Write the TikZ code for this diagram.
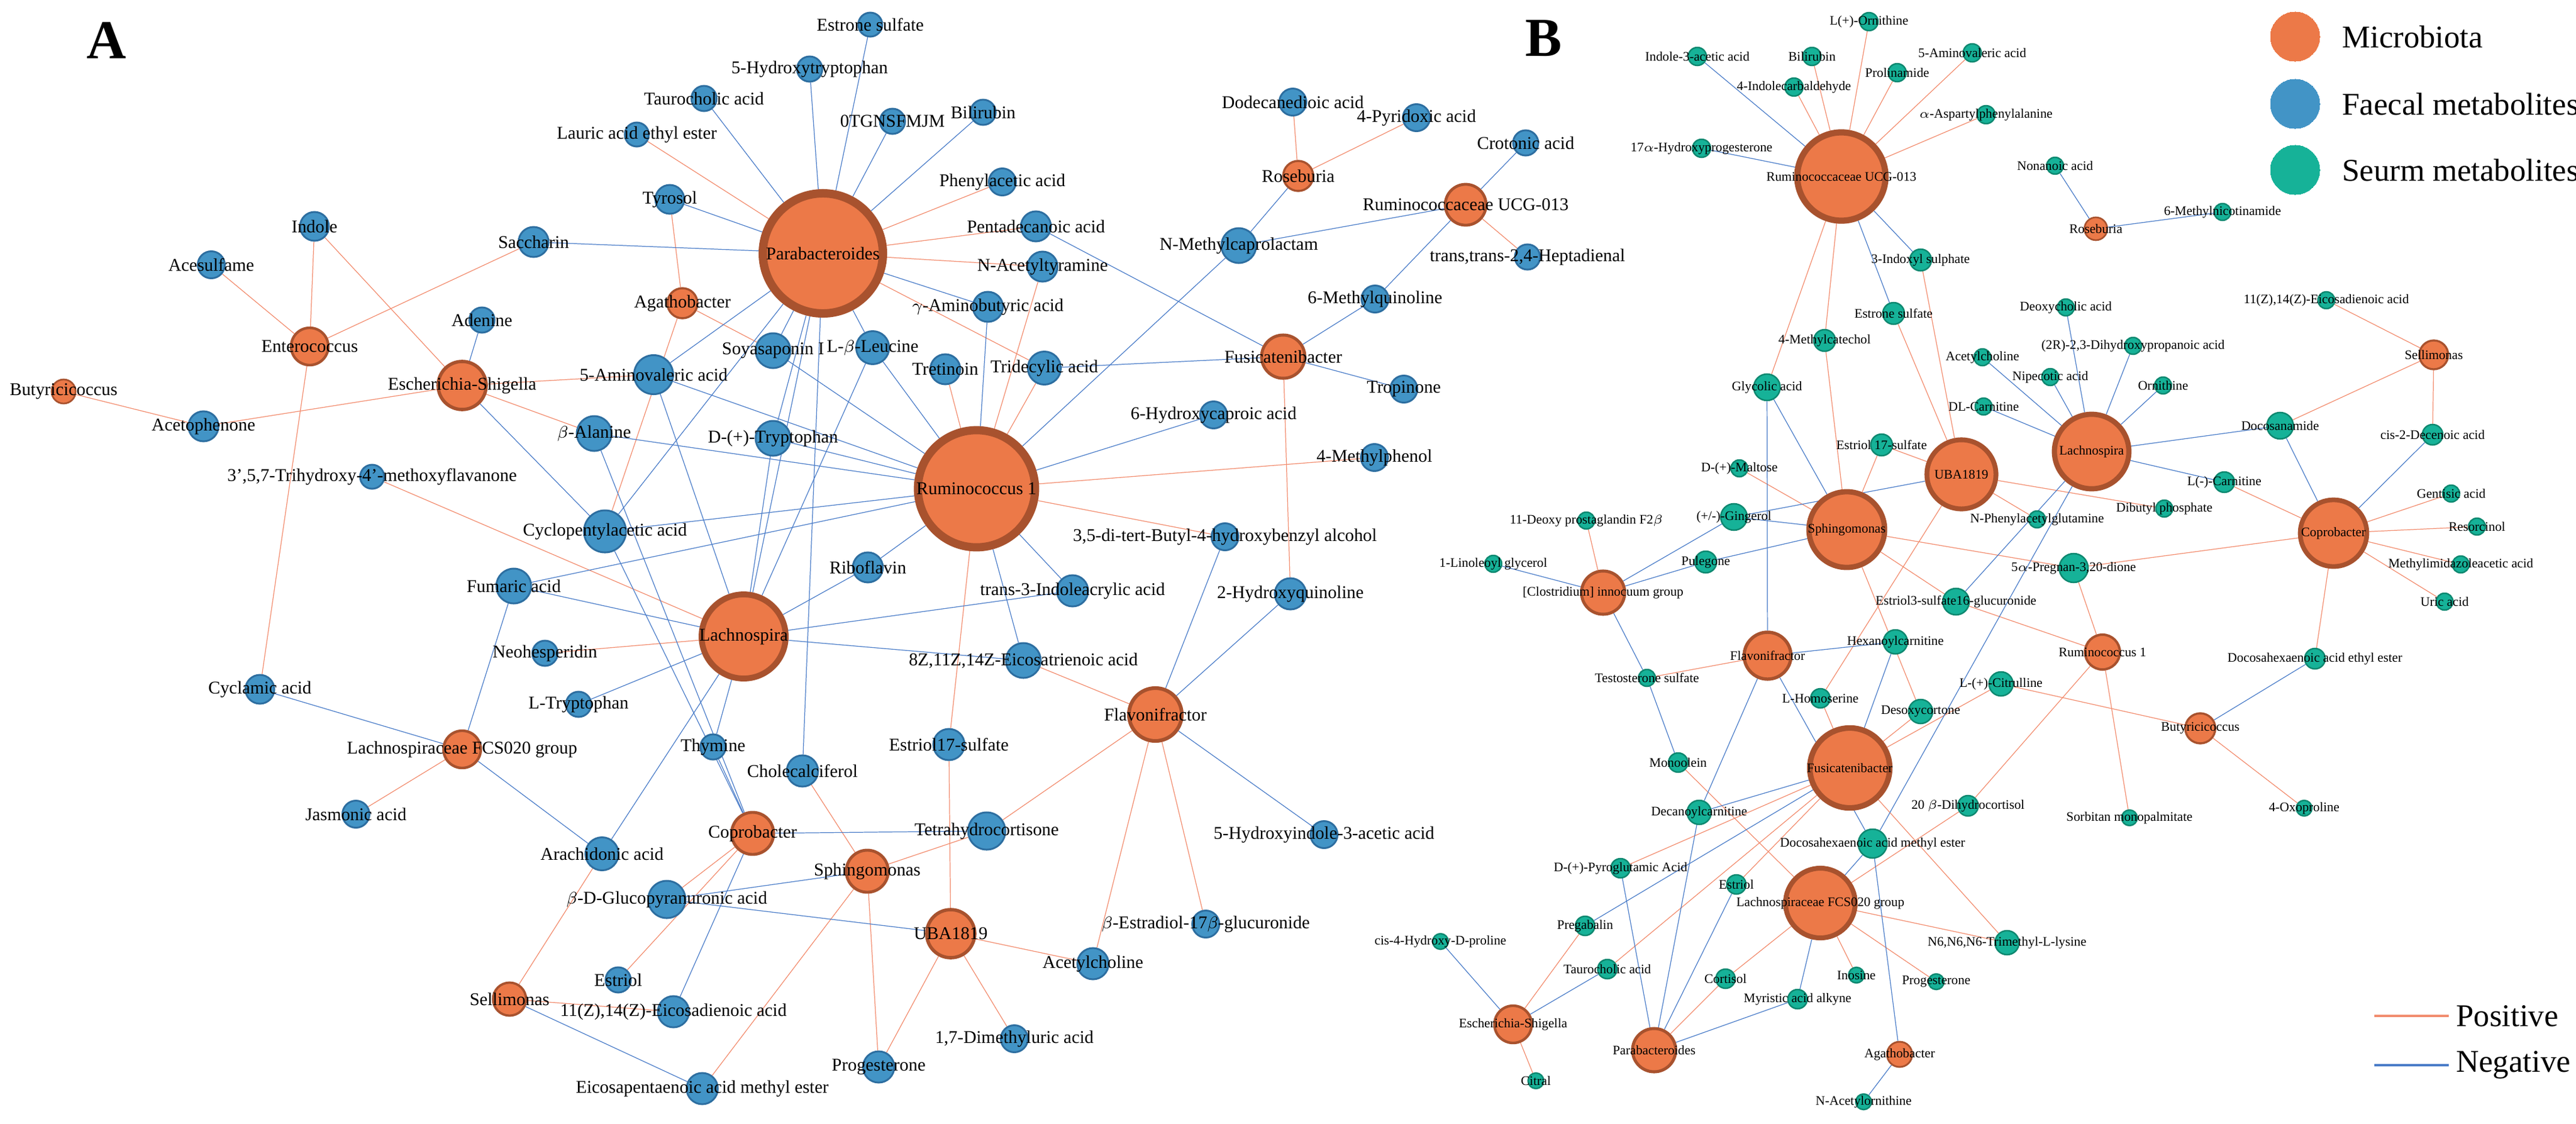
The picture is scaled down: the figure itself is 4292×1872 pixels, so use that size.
\documentclass[tikz,border=0pt]{standalone}
\usepackage{fontspec}
\setmainfont{Liberation Serif}
\usetikzlibrary{backgrounds}
\definecolor{micF}{RGB}{236,121,72}
\definecolor{micD}{RGB}{168,82,46}
\definecolor{faeF}{RGB}{66,148,198}
\definecolor{faeD}{RGB}{45,110,160}
\definecolor{serF}{RGB}{22,178,152}
\definecolor{serD}{RGB}{14,136,112}
\definecolor{posE}{RGB}{242,140,110}
\definecolor{negE}{RGB}{74,124,200}
\tikzset{
  mic/.style={circle, fill=micF, draw=micD, minimum size=#1*0.1mm, line width=#1*0.007mm, inner sep=0pt},
  fae/.style={circle, fill=faeF, draw=faeD, minimum size=#1*0.1mm, line width=0.3mm, inner sep=0pt},
  ser/.style={circle, fill=serF, draw=serD, minimum size=#1*0.1mm, line width=0.25mm, inner sep=0pt},
  la/.style={font=\fontsize{8.5}{8.5}\selectfont, inner sep=0pt},
  lb/.style={font=\fontsize{6.2}{6.2}\selectfont, inner sep=0pt},
  posl/.style={draw=posE, line width=0.35pt},
  negl/.style={draw=negE, line width=0.35pt},
}
\newcommand{\nA}[5]{\node[#1=#2, label={[la]center:#5}] (#3) at (#4) {};}
\newcommand{\nB}[5]{\node[#1=#2, label={[lb]center:#5}] (#3) at (#4) {};}
\begin{document}
\begin{tikzpicture}[x=0.01cm, y=-0.01cm]
\useasboundingbox (0,0) rectangle (4292,1872);
\node[font=\fontsize{26}{26}\selectfont\bfseries] (lblA) at (178,67) {A};
\node[font=\fontsize{26}{26}\selectfont\bfseries] (lblB) at (2572,64) {B};
% panel A, microbiota
\nA{mic}{200}{aPara}{1371,422}{Parabacteroides}
\nA{mic}{195}{aRum}{1627,814}{Ruminococcus 1}
\nA{mic}{140}{aLach}{1239,1060}{Lachnospira}
\nA{mic}{80}{aEsch}{770,642}{Escherichia-Shigella}
\nA{mic}{62}{aEnt}{516,577}{Enterococcus}
\nA{mic}{50}{aAga}{1137,505}{Agathobacter}
\nA{mic}{50}{aRos}{2163,293}{Roseburia}
\nA{mic}{68}{aRucg}{2442,341}{Ruminococcaceae UCG-013}
\nA{mic}{72}{aFus}{2138,594}{Fusicatenibacter}
\nA{mic}{62}{aLfcs}{770,1248}{Lachnospiraceae FCS020 group}
\nA{mic}{70}{aCop}{1254,1388}{Coprobacter}
\nA{mic}{70}{aSph}{1445,1451}{Sphingomonas}
\nA{mic}{80}{aUba}{1584,1555}{UBA1819}
\nA{mic}{88}{aFla}{1925,1190}{Flavonifractor}
\nA{mic}{55}{aSel}{849,1664}{Sellimonas}
\nA{mic}{40}{aBut}{106,652}{Butyricicoccus}
% panel A, faecal metabolites
\nA{fae}{48}{aIndole}{524,377}{Indole}
\nA{fae}{45}{aAcesul}{352,441}{Acesulfame}
\nA{fae}{50}{aSacch}{889,403}{Saccharin}
\nA{fae}{42}{aAden}{803,533}{Adenine}
\nA{fae}{50}{aAceto}{339,710}{Acetophenone}
\nA{fae}{40}{aTrihy}{620,794}{3',5,7-Trihydroxy-4'-methoxyflavanone}
\nA{fae}{40}{aLaur}{1061,224}{Lauric acid ethyl ester}
\nA{fae}{48}{aTyro}{1116,332}{Tyrosol}
\nA{fae}{65}{aAmino}{1089,624}{5-Aminovaleric acid}
\nA{fae}{58}{aBala}{990,722}{$\beta$-Alanine}
\nA{fae}{70}{aCyclo}{1008,885}{Cyclopentylacetic acid}
\nA{fae}{40}{aEstr}{1450,41}{Estrone sulfate}
\nA{fae}{42}{aHtrp}{1349,115}{5-Hydroxytryptophan}
\nA{fae}{42}{aTauro}{1173,164}{Taurocholic acid}
\nA{fae}{42}{aOtg}{1487,202}{0TGNSFMJM}
\nA{fae}{42}{aBili}{1638,187}{Bilirubin}
\nA{fae}{45}{aPhen}{1670,303}{Phenylacetic acid}
\nA{fae}{50}{aPenta}{1726,377}{Pentadecanoic acid}
\nA{fae}{50}{aNacet}{1737,444}{N-Acetyltyramine}
\nA{fae}{50}{aGaba}{1646,511}{$\gamma$-Aminobutyric acid}
\nA{fae}{58}{aSoya}{1288,584}{Soyasaponin I}
\nA{fae}{55}{aLeu}{1454,579}{L-$\beta$-Leucine}
\nA{fae}{50}{aTret}{1575,615}{Tretinoin}
\nA{fae}{55}{aTride}{1740,613}{Tridecylic acid}
\nA{fae}{45}{aDodec}{2154,170}{Dodecanedioic acid}
\nA{fae}{58}{aNmeth}{2064,409}{N-Methylcaprolactam}
\nA{fae}{45}{aHcap}{2022,691}{6-Hydroxycaproic acid}
\nA{fae}{58}{aDtrp}{1288,730}{D-(+)-Tryptophan}
\nA{fae}{45}{aDitert}{2041,894}{3,5-di-tert-Butyl-4-hydroxybenzyl alcohol}
\nA{fae}{45}{aMquin}{2291,498}{6-Methylquinoline}
\nA{fae}{42}{aCroto}{2542,238}{Crotonic acid}
\nA{fae}{45}{aPyri}{2360,196}{4-Pyridoxic acid}
\nA{fae}{42}{aHept}{2545,428}{trans,trans-2,4-Heptadienal}
\nA{fae}{45}{aTropi}{2339,648}{Tropinone}
\nA{fae}{45}{aMphen}{2290,762}{4-Methylphenol}
\nA{fae}{58}{aFuma}{856,976}{Fumaric acid}
\nA{fae}{42}{aNeoh}{908,1088}{Neohesperidin}
\nA{fae}{48}{aCycla}{433,1148}{Cyclamic acid}
\nA{fae}{42}{aLtrp}{964,1173}{L-Tryptophan}
\nA{fae}{45}{aJasm}{593,1356}{Jasmonic acid}
\nA{fae}{55}{aArach}{1003,1422}{Arachidonic acid}
\nA{fae}{62}{aGluc}{1111,1498}{$\beta$-D-Glucopyranuronic acid}
\nA{fae}{42}{aEstriol}{1030,1632}{Estriol}
\nA{fae}{52}{aEico}{1122,1685}{11(Z),14(Z)-Eicosadienoic acid}
\nA{fae}{52}{aEpa}{1170,1813}{Eicosapentaenoic acid methyl ester}
\nA{fae}{50}{aRibo}{1446,945}{Riboflavin}
\nA{fae}{52}{aIndac}{1787,984}{trans-3-Indoleacrylic acid}
\nA{fae}{52}{aHquin}{2150,989}{2-Hydroxyquinoline}
\nA{fae}{58}{aTrien}{1705,1100}{8Z,11Z,14Z-Eicosatrienoic acid}
\nA{fae}{42}{aThym}{1188,1244}{Thymine}
\nA{fae}{52}{aChol}{1337,1284}{Cholecalciferol}
\nA{fae}{52}{aE17s}{1581,1240}{Estriol17-sulfate}
\nA{fae}{62}{aTetra}{1644,1384}{Tetrahydrocortisone}
\nA{fae}{45}{aHind}{2206,1390}{5-Hydroxyindole-3-acetic acid}
\nA{fae}{45}{aEstra}{2009,1539}{$\beta$-Estradiol-17$\beta$-glucuronide}
\nA{fae}{52}{aAcet}{1821,1605}{Acetylcholine}
\nA{fae}{45}{aDime}{1690,1730}{1,7-Dimethyluric acid}
\nA{fae}{52}{aProg}{1464,1777}{Progesterone}
% panel B, microbiota
\nB{mic}{147}{bRucg}{3068,294}{Ruminococcaceae UCG-013}
\nB{mic}{126}{bSph}{3077,882}{Sphingomonas}
\nB{mic}{115}{bUba}{3268,790}{UBA1819}
\nB{mic}{124}{bLach}{3485,752}{Lachnospira}
\nB{mic}{111}{bCop}{3888,888}{Coprobacter}
\nB{mic}{133}{bFus}{3082,1279}{Fusicatenibacter}
\nB{mic}{116}{bLfcs}{3033,1504}{Lachnospiraceae FCS020 group}
\nB{mic}{78}{bFla}{2945,1092}{Flavonifractor}
\nB{mic}{72}{bClos}{2671,987}{[Clostridium] innocuum group}
\nB{mic}{58}{bRum}{3503,1086}{Ruminococcus 1}
\nB{mic}{50}{bBut}{3666,1213}{Butyricicoccus}
\nB{mic}{62}{bEsch}{2521,1706}{Escherichia-Shigella}
\nB{mic}{72}{bPara}{2756,1749}{Parabacteroides}
\nB{mic}{42}{bAga}{3165,1756}{Agathobacter}
\nB{mic}{38}{bRos}{3492,381}{Roseburia}
\nB{mic}{48}{bSel}{4055,591}{Sellimonas}
% panel B, serum metabolites
\nB{ser}{30}{bOrni}{3114,36}{L(+)-Ornithine}
\nB{ser}{30}{bIaa}{2828,94}{Indole-3-acetic acid}
\nB{ser}{30}{bBili}{3019,94}{Bilirubin}
\nB{ser}{30}{bAmino}{3286,88}{5-Aminovaleric acid}
\nB{ser}{30}{bProl}{3161,121}{Prolinamide}
\nB{ser}{30}{bIcarb}{2989,145}{4-Indolecarbaldehyde}
\nB{ser}{30}{bAsp}{3309,191}{$\alpha$-Aspartylphenylalanine}
\nB{ser}{30}{bHprog}{2835,247}{17$\alpha$-Hydroxyprogesterone}
\nB{ser}{36}{bIndox}{3200,433}{3-Indoxyl sulphate}
\nB{ser}{36}{bEstr}{3155,522}{Estrone sulfate}
\nB{ser}{36}{bMcat}{3040,567}{4-Methylcatechol}
\nB{ser}{44}{bGly}{2944,645}{Glycolic acid}
\nB{ser}{36}{bE17s}{3135,741}{Estriol 17-sulfate}
\nB{ser}{28}{bMalt}{2898,780}{D-(+)-Maltose}
\nB{ser}{28}{bDeoxy}{2643,867}{11-Deoxy prostaglandin F2$\beta$}
\nB{ser}{44}{bGing}{2889,861}{(+/-)-Gingerol}
\nB{ser}{28}{bLino}{2488,939}{1-Linoleoyl glycerol}
\nB{ser}{36}{bPule}{2842,936}{Pulegone}
\nB{ser}{28}{bTest}{2744,1129}{Testosterone sulfate}
\nB{ser}{40}{bHexa}{3158,1069}{Hexanoylcarnitine}
\nB{ser}{44}{bE3s}{3259,1002}{Estriol3-sulfate16-glucuronide}
\nB{ser}{32}{bHomo}{3033,1163}{L-Homoserine}
\nB{ser}{40}{bDesox}{3200,1185}{Desoxycortone}
\nB{ser}{32}{bMono}{2796,1270}{Monoolein}
\nB{ser}{40}{bDeca}{2831,1353}{Decanoylcarnitine}
\nB{ser}{48}{bDham}{3120,1405}{Docosahexaenoic acid methyl ester}
\nB{ser}{32}{bPyro}{2700,1446}{D-(+)-Pyroglutamic Acid}
\nB{ser}{32}{bEstriol}{2893,1473}{Estriol}
\nB{ser}{32}{bPreg}{2641,1542}{Pregabalin}
\nB{ser}{26}{bHypro}{2400,1568}{cis-4-Hydroxy-D-proline}
\nB{ser}{32}{bTauro}{2678,1614}{Taurocholic acid}
\nB{ser}{32}{bCort}{2875,1630}{Cortisol}
\nB{ser}{26}{bIno}{3093,1624}{Inosine}
\nB{ser}{26}{bProg}{3226,1635}{Progesterone}
\nB{ser}{32}{bMyr}{2995,1664}{Myristic acid alkyne}
\nB{ser}{26}{bCitr}{2559,1800}{Citral}
\nB{ser}{26}{bNace}{3105,1835}{N-Acetylornithine}
\nB{ser}{28}{bNona}{3424,276}{Nonanoic acid}
\nB{ser}{28}{bMnic}{3703,353}{6-Methylnicotinamide}
\nB{ser}{28}{bDchol}{3442,512}{Deoxycholic acid}
\nB{ser}{28}{bDihy}{3554,576}{(2R)-2,3-Dihydroxypropanoic acid}
\nB{ser}{28}{bAcet}{3303,595}{Acetylcholine}
\nB{ser}{28}{bNipe}{3416,628}{Nipecotic acid}
\nB{ser}{28}{bOrn}{3604,642}{Ornithine}
\nB{ser}{28}{bDlc}{3305,677}{DL-Carnitine}
\nB{ser}{28}{bEico}{3876,500}{11(Z),14(Z)-Eicosadienoic acid}
\nB{ser}{44}{bDocos}{3799,709}{Docosanamide}
\nB{ser}{34}{bDec}{4053,724}{cis-2-Decenoic acid}
\nB{ser}{34}{bLcar}{3706,803}{L(-)-Carnitine}
\nB{ser}{28}{bDibu}{3606,847}{Dibutyl phosphate}
\nB{ser}{28}{bNphe}{3394,865}{N-Phenylacetylglutamine}
\nB{ser}{28}{bGent}{4084,822}{Gentisic acid}
\nB{ser}{28}{bReso}{4127,877}{Resorcinol}
\nB{ser}{28}{bMimi}{4100,940}{Methylimidazoleacetic acid}
\nB{ser}{48}{bPregn}{3455,946}{5$\alpha$-Pregnan-3,20-dione}
\nB{ser}{28}{bUric}{4073,1002}{Uric acid}
\nB{ser}{34}{bDhae}{3857,1097}{Docosahexaenoic acid ethyl ester}
\nB{ser}{40}{bCitru}{3334,1139}{L-(+)-Citrulline}
\nB{ser}{34}{bDihc}{3279,1342}{20 $\beta$-Dihydrocortisol}
\nB{ser}{26}{bSorb}{3548,1362}{Sorbitan monopalmitate}
\nB{ser}{26}{bOxo}{3839,1346}{4-Oxoproline}
\nB{ser}{40}{bTrim}{3344,1570}{N6,N6,N6-Trimethyl-L-lysine}
% legend
\node[mic=82, line width=0pt, draw=micF] (legMic) at (3824,61) {};
\node[fae=82, line width=0pt, draw=faeF] (legFae) at (3824,173) {};
\node[ser=82, line width=0pt, draw=serF] (legSer) at (3824,283) {};
\node[anchor=west, font=\fontsize{15}{15}\selectfont] (txtMic) at (3890,61) {Microbiota};
\node[anchor=west, font=\fontsize{15}{15}\selectfont] (txtFae) at (3890,173) {Faecal metabolites};
\node[anchor=west, font=\fontsize{15}{15}\selectfont] (txtSer) at (3890,283) {Seurm metabolites};
\coordinate (posA) at (3956,1692);
\coordinate (negA) at (3956,1774);
\node[anchor=west, font=\fontsize{15}{15}\selectfont] (txtPos) at (4080,1692) {Positive};
\node[anchor=west, font=\fontsize{15}{15}\selectfont] (txtNeg) at (4080,1774) {Negative};
\draw[draw=posE, line width=1pt] (posA) -- (txtPos.west);
\draw[draw=negE, line width=1pt] (negA) -- (txtNeg.west);
\begin{pgfonlayer}{background}
% panel A, positive
\foreach \a/\b in {aAcesul/aEnt, aIndole/aEnt, aIndole/aEsch, aSacch/aEnt, aBut/aAceto, aAceto/aEsch,
  aEnt/aCycla, aEsch/aAmino, aEsch/aBala, aTrihy/aLach, aLaur/aPara, aTyro/aAga, aAga/aCyclo, aAga/aSoya,
  aNeoh/aLach, aJasm/aLfcs, aArach/aSel, aSel/aEico, aEstriol/aCop, aGluc/aCop, aEpa/aSph, aTrien/aFla,
  aChol/aSph, aRum/aE17s, aE17s/aUba, aTetra/aSph, aTetra/aFla, aHquin/aFus, aFla/aAcet, aFla/aEstra,
  aUba/aAcet, aUba/aDime, aUba/aProg, aSph/aProg, aPara/aPhen, aPara/aPenta, aPara/aNacet, aPara/aTride,
  aRum/aTret, aRum/aNacet, aRum/aTride, aRum/aMphen, aRum/aDitert, aRos/aDodec, aRos/aPyri, aRucg/aHept}
  \draw[posl] (\a) -- (\b);
% panel A, negative
\foreach \a/\b in {aSacch/aPara, aAden/aEsch, aEsch/aCyclo, aTyro/aPara, aAmino/aPara, aAmino/aRum,
  aAmino/aLach, aBala/aRum, aBala/aCop, aCyclo/aPara, aCyclo/aRum, aCyclo/aCop, aFuma/aRum, aFuma/aLach,
  aFuma/aLfcs, aLtrp/aLach, aCycla/aLfcs, aLfcs/aArach, aArach/aLach, aSel/aEpa, aEico/aCop, aGluc/aSph,
  aGluc/aUba, aRibo/aLach, aRibo/aRum, aLach/aIndac, aRum/aIndac, aLach/aTrien, aRum/aTrien, aThym/aLach,
  aThym/aCop, aChol/aPara, aCop/aTetra, aFla/aDitert, aFla/aHquin, aFla/aHind, aPara/aTauro, aPara/aHtrp,
  aPara/aEstr, aPara/aOtg, aPara/aBili, aPara/aGaba, aPara/aLeu, aPara/aSoya, aPara/aDtrp, aPara/aLach,
  aRum/aGaba, aRum/aNmeth, aRum/aHcap, aRum/aLeu, aRum/aSoya, aRum/aDtrp, aLeu/aLach, aDtrp/aLach,
  aPenta/aFus, aTride/aFus, aRos/aNmeth, aNmeth/aRucg, aRucg/aCroto, aRucg/aMquin, aMquin/aFus, aFus/aTropi}
  \draw[negl] (\a) -- (\b);
% panel B, positive
\foreach \a/\b in {bRucg/bIcarb, bRucg/bBili, bRucg/bOrni, bRucg/bProl, bRucg/bAmino, bRucg/bAsp,
  bRucg/bMcat, bRucg/bGly, bSph/bMcat, bSph/bE17s, bSph/bMalt, bSph/bPregn, bSph/bE3s, bSph/bDesox,
  bUba/bEstr, bUba/bIndox, bUba/bE17s, bUba/bDibu, bUba/bNphe, bUba/bHomo, bSel/bEico, bSel/bDocos,
  bSel/bDec, bCop/bLcar, bCop/bGent, bCop/bReso, bCop/bMimi, bCop/bUric, bCop/bPregn, bCop/bDhae,
  bBut/bCitru, bBut/bOxo, bRum/bPregn, bRum/bE3s, bRum/bDihc, bRum/bSorb, bClos/bDeoxy, bTest/bFla,
  bFus/bHomo, bFus/bDesox, bFus/bCitru, bFus/bPyro, bFus/bTauro, bFus/bEstriol, bFus/bTrim, bMono/bLfcs,
  bLfcs/bDihc, bLfcs/bTrim, bLfcs/bProg, bLfcs/bIno, bLfcs/bCort, bPara/bCort, bEsch/bPreg, bEsch/bCitr}
  \draw[posl] (\a) -- (\b);
% panel B, negative
\foreach \a/\b in {bRucg/bIaa, bRucg/bHprog, bRucg/bIndox, bRucg/bEstr, bSph/bGly, bSph/bGing, bSph/bPule,
  bGing/bUba, bLach/bAcet, bLach/bNipe, bLach/bDchol, bLach/bDihy, bLach/bOrn, bLach/bDlc, bLach/bDocos,
  bLach/bLcar, bLach/bE3s, bLach/bDham, bRos/bNona, bRos/bMnic, bCop/bDocos, bCop/bDec, bBut/bDhae,
  bClos/bGing, bClos/bPule, bClos/bLino, bClos/bTest, bTest/bMono, bFla/bGly, bFla/bHexa, bFla/bDeca,
  bFla/bDham, bFus/bHexa, bFus/bDeca, bFus/bPreg, bLfcs/bDham, bLfcs/bMyr, bPara/bDeca, bPara/bPyro,
  bPara/bEstriol, bPara/bMyr, bEsch/bHypro, bEsch/bTauro, bAga/bDham, bAga/bNace}
  \draw[negl] (\a) -- (\b);
\end{pgfonlayer}
\end{tikzpicture}
\end{document}
